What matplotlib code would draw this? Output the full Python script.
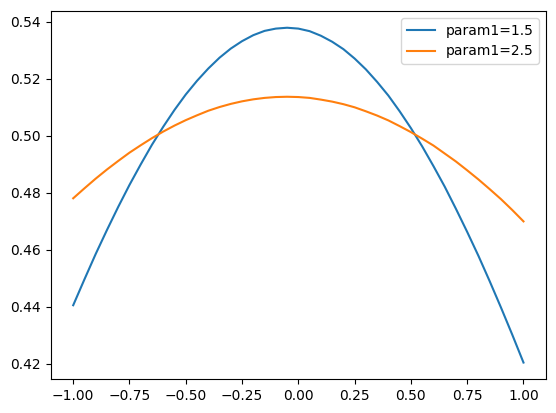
import matplotlib
matplotlib.use('Agg')
import matplotlib.pyplot as plt

# ------------------------------------------------------------
# Данные
# ------------------------------------------------------------
x = [-1.0, -0.95, -0.9, -0.85, -0.8, -0.75, -0.7, -0.65, -0.6, -0.55,
     -0.5, -0.45, -0.4, -0.35, -0.3, -0.25, -0.2, -0.15, -0.1, -0.05,
     0.0, 0.05, 0.1, 0.15, 0.2, 0.25, 0.3, 0.35, 0.4, 0.45,
     0.5, 0.55, 0.6, 0.65, 0.7, 0.75, 0.8, 0.85, 0.9, 0.95, 1.0]

y_p15 = [0.4406, 0.4497, 0.4586, 0.4670, 0.4751, 0.4828, 0.4900, 0.4969,
         0.5032, 0.5091, 0.5145, 0.5193, 0.5236, 0.5274, 0.5306, 0.5332,
         0.5353, 0.5368, 0.5376, 0.5379, 0.5376, 0.5367, 0.5351, 0.5330,
         0.5304, 0.5271, 0.5233, 0.5189, 0.5141, 0.5086, 0.5027, 0.4963,
         0.4894, 0.4822, 0.4744, 0.4663, 0.4579, 0.4490, 0.4398, 0.4303,
         0.4205]

y_p25 = [0.4781, 0.4816, 0.4850, 0.4882, 0.4912, 0.4941, 0.4967, 0.4992,
         0.5015, 0.5036, 0.5055, 0.5072, 0.5088, 0.5101, 0.5112, 0.5121,
         0.5128, 0.5133, 0.5136, 0.5137, 0.5136, 0.5133, 0.5127, 0.5120,
         0.5111, 0.5100, 0.5086, 0.5071, 0.5054, 0.5034, 0.5013, 0.4990,
         0.4966, 0.4938, 0.4910, 0.4879, 0.4847, 0.4813, 0.4778, 0.4740,
         0.4700]

labels = ['param1=1.5', 'param1=2.5']

# ------------------------------------------------------------
# График
# ------------------------------------------------------------
fig = plt.figure(figsize=(5.56, 4.13), dpi=100)
ax = fig.add_axes([50.7 / 556, (413 - 379.3) / 413, 495.3 / 556, 368.3 / 413])

ax.plot(x, y_p15, label=labels[0])
ax.plot(x, y_p25, label=labels[1])
ax.legend(loc='upper right')

fig.savefig('out.png', dpi=100)
